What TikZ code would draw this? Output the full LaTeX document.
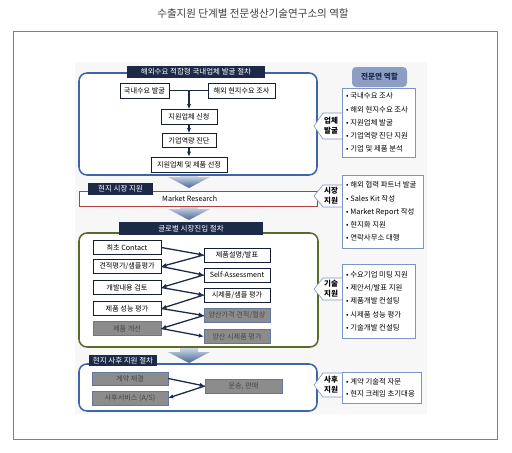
\documentclass[tikz,border=0pt]{standalone}
\usepackage{fontspec}
\setmainfont{Noto Sans CJK KR}
\usetikzlibrary{arrows.meta}
\definecolor{navy}{RGB}{28,42,72}
\definecolor{frameblue}{RGB}{62,100,170}
\definecolor{frameolive}{RGB}{88,108,40}
\definecolor{barred}{RGB}{176,64,64}
\definecolor{boxgray}{RGB}{140,140,140}
\definecolor{boxtext}{RGB}{70,70,70}
\definecolor{callblue}{RGB}{125,148,196}
\definecolor{roleblue}{RGB}{140,158,196}
\definecolor{arrowtop}{RGB}{214,222,234}
\definecolor{arrowbot}{RGB}{72,102,152}

\begin{document}
\begin{tikzpicture}[x=0.3mm, y=-0.3mm, >={Latex[length=1.5mm, width=1.3mm]},
  every node/.style={font=\fontsize{6.1}{7}\selectfont, inner sep=0pt},
  sz/.style 2 args={minimum width=#1*0.3mm, minimum height=#2*0.3mm},
  hdr/.style={fill=navy, text=white, font=\fontsize{6.4}{7}\selectfont},
  wbox/.style={draw=navy!70!black, fill=white, line width=0.6pt},
  gbox/.style={draw=callblue!80!black, fill=boxgray, text=boxtext, line width=0.4pt},
  secframe/.style={line width=1.3pt, rounded corners=2.4mm, fill=white},
  flow/.style={navy, line width=1.1pt},
  notch/.style={draw=callblue, fill=white, line width=0.5pt},
  tagtext/.style={align=center, font=\bfseries\fontsize{6.4}{8.5}\selectfont},
  bullets/.style={align=left, font=\fontsize{6.3}{11.3}\selectfont}]
	\useasboundingbox (0,0) rectangle (512,452);
	\node[font=\fontsize{9}{10}\selectfont, text=black!75] (title) at (253,14) {수출지원 단계별 전문생산기술연구소의 역할};
	\draw[black!50, line width=0.6pt] (13,31) rectangle (497,439);
	\fill[black!3] (75,62) rectangle (427,414);
	\foreach \ya/\yb in {175/188,206/220,347/363}
		\shade[top color=arrowtop, bottom color=arrowbot] (180,\ya) -- (198,\ya) -- (198,\yb-11) -- (210,\yb-11) -- (189,\yb) -- (168,\yb-11) -- (180,\yb-11) -- cycle;

	\draw[secframe, draw=frameblue] (79,73) rectangle (317,175);
	\node[hdr, sz={138}{12}] (stepA) at (196,72) {해외수요 적합형 국내업체 발굴 절차};
	\node[wbox, sz={49}{15}] (dom) at (144.5,90.5) {국내수요 발굴};
	\node[wbox, sz={67}{15}] (ovs) at (241.5,90.5) {해외 현지수요 조사};
	\node[wbox, sz={56}{15}] (apply) at (189,117) {지원업체 신청};
	\node[wbox, sz={54}{14}] (diag) at (189,140.5) {기업역량 진단};
	\node[wbox, sz={76}{15}] (select) at (189,164.5) {지원업체 및 제품 선정};
	\draw[flow] (dom) -- (ovs);
	\draw[flow,->] (dom.east -| apply.north) -- (apply);
	\draw[flow,->] (apply) -- (diag);
	\draw[flow,->] (diag) -- (select);

	\node[draw=barred, fill=white, line width=0.8pt, sz={238}{15}] (mr) at (198,198.5) {Market Research\hspace*{5mm}};
	\node[hdr, sz={65}{12}] (stepB) at (120.5,189) {현지 시장 지원};

	\draw[secframe, draw=frameolive] (79,233) rectangle (318,347);
	\node[hdr, sz={144}{13}] (stepC) at (191,228.5) {글로벌 시장진입 절차};
	\node[wbox, sz={68}{14}] (L1) at (127,247.5) {최초 Contact};
	\node[wbox, sz={68}{14}] (L2) at (127,266.5) {견적평가/샘플평가};
	\node[wbox, sz={68}{14}] (L3) at (127,287.5) {개발내용 검토};
	\node[wbox, sz={68}{14}] (L4) at (127,308.5) {제품 성능 평가};
	\node[gbox, sz={68}{14}] (L5) at (127,328.5) {제품 개선};
	\node[wbox, sz={66}{14}] (R1) at (237,255) {제품설명/발표};
	\node[wbox, sz={66}{14}] (R2) at (237,275) {Self-Assessment};
	\node[wbox, sz={66}{14}] (R3) at (237,295) {시제품/샘플 평가};
	\node[gbox, sz={66}{14}] (R4) at (237,315.5) {양산가격 견적/협상};
	\node[gbox, sz={66}{14}] (R5) at (237,336.5) {양산 시제품 평가};
	\foreach \i [evaluate=\i as \j using int(\i+1)] in {1,...,4} {
		\draw[flow,->] (L\i.east) -- (R\i.west);
		\draw[flow,->] (R\i.west) -- (L\j.east);
	}
	\draw[flow,->] (L5.east) -- (R5.west);

	\draw[secframe, draw=frameblue] (79,364) rectangle (317,411);
	\node[hdr, sz={68}{11}] (stepD) at (123,360.5) {현지 사후 지원 절차};
	\node[gbox, sz={76}{13}] (contract) at (130,378.5) {계약 체결};
	\node[gbox, sz={76}{14}] (service) at (130,398) {사후서비스 (A/S)};
	\node[gbox, sz={77}{14}] (sales) at (243.5,386) {운송, 판매};
	\draw[flow,->] (contract.east) -- (sales.west);
	\draw[flow,->] (sales.west) -- (service.east);

	\node[fill=roleblue, rounded corners=1.2mm, sz={55}{20}, font=\bfseries\fontsize{6.5}{7}\selectfont, text=navy] (role) at (379.5,77) {전문연 역할};
	\foreach \t/\b in {113/139,185/207,278/300,373/397}
		\draw[notch] (342,\t) -- (323,\t) -- (314,{(\t+\b)/2}) -- (323,\b) -- (342,\b);
	\draw[notch] (342,88) rectangle (415,157);
	\draw[notch] (342,175) rectangle (423,248);
	\draw[notch] (342,264) rectangle (415,338);
	\draw[notch] (342,372) rectangle (421,403);
	\node[tagtext] (tagA) at (331,126) {업체\\발굴};
	\node[tagtext] (tagB) at (331,196) {시장\\지원};
	\node[tagtext] (tagC) at (331,289) {기술\\지원};
	\node[tagtext] (tagD) at (331,385) {사후\\지원};
	\node[bullets, anchor=west] (rolesA) at (346,122.5) {• 국내수요 조사\\• 해외 현지수요 조사\\• 지원업체 발굴\\• 기업역량 진단 지원\\• 기업 및 제품 분석};
	\node[bullets, anchor=west] (rolesB) at (346,211.5) {• 해외 협력 파트너 발굴\\• Sales Kit 작성\\• Market Report 작성\\• 현지화 지원\\• 연락사무소 대행};
	\node[bullets, anchor=west] (rolesC) at (346,301) {• 수요기업 미팅 지원\\• 제안서/발표 지원\\• 제품개발 컨설팅\\• 시제품 성능 평가\\• 기술개발 컨설팅};
	\node[bullets, anchor=west, font=\fontsize{6.3}{10.3}\selectfont] (rolesD) at (346,387.5) {• 계약 기술적 자문\\• 현지 크레임 초기대응};
\end{tikzpicture}
\end{document}
